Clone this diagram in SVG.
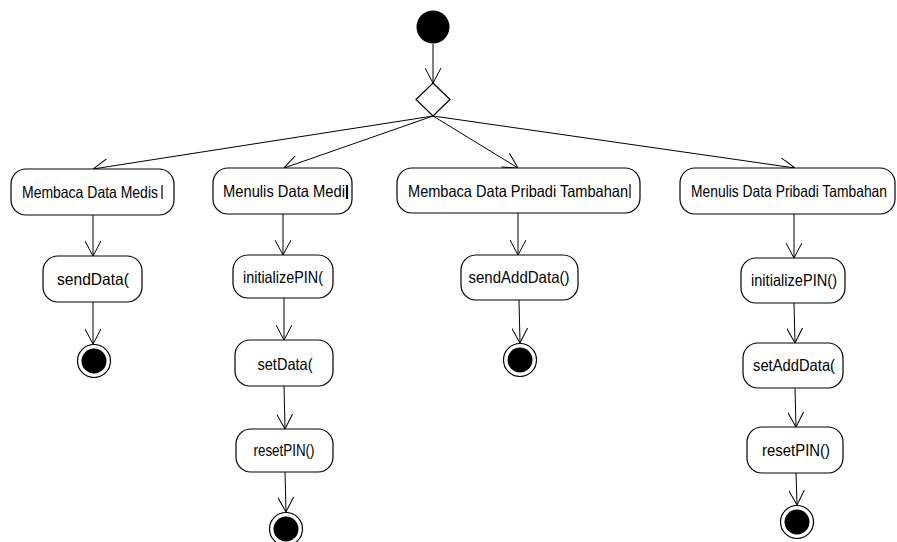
<svg xmlns="http://www.w3.org/2000/svg" width="897" height="542" viewBox="0 0 897 542">
  <style>
    .act { fill: #ffffff; stroke: #000000; stroke-width: 1.2; }
    .lbl { font-family: "Liberation Sans", Arial, sans-serif; font-size: 16.5px; fill: #000000; }
    .mid { text-anchor: middle; }
    .flow { fill: none; stroke: #000000; stroke-width: 1; marker-end: url(#open); }
    .cursor { stroke: #000000; stroke-width: 1.2; }
    .endRing { fill: #ffffff; stroke: #000000; stroke-width: 1.2; }
  </style>
  <defs>
    <marker id="open" viewBox="0 0 15 16" refX="15" refY="8" markerWidth="15" markerHeight="16" markerUnits="userSpaceOnUse" orient="auto">
      <path d="M0,0 L15,8 L0,16" fill="none" stroke="#000000" stroke-width="1"/>
    </marker>
  </defs>
  <rect width="897" height="542" fill="#ffffff"/>

  <g id="connectors">
    <line class="flow" x1="433" y1="44" x2="433" y2="83"/>
    <line class="flow" x1="433" y1="116" x2="93" y2="169"/>
    <line class="flow" x1="433" y1="116" x2="284" y2="168"/>
    <line class="flow" x1="433" y1="116" x2="518" y2="168"/>
    <line class="flow" x1="433" y1="116" x2="795" y2="168"/>
    <line class="flow" x1="93" y1="215" x2="93" y2="256"/>
    <line class="flow" x1="93" y1="302" x2="93" y2="344"/>
    <line class="flow" x1="283" y1="214" x2="283" y2="255"/>
    <line class="flow" x1="284" y1="298" x2="284" y2="340"/>
    <line class="flow" x1="284" y1="386" x2="285" y2="429"/>
    <line class="flow" x1="285" y1="472" x2="286" y2="512"/>
    <line class="flow" x1="518" y1="213" x2="518" y2="255"/>
    <line class="flow" x1="519" y1="300" x2="520" y2="343"/>
    <line class="flow" x1="794" y1="214" x2="794" y2="258"/>
    <line class="flow" x1="794" y1="303" x2="795" y2="343"/>
    <line class="flow" x1="795" y1="388" x2="796" y2="427"/>
    <line class="flow" x1="796" y1="473" x2="797" y2="505"/>
  </g>

  <g id="start">
    <circle cx="433" cy="27" r="16.5" fill="#000000"/>
  </g>

  <g id="decision">
    <polygon points="433,83 450,99.5 433,116 416,99.5" fill="#ffffff" stroke="#000000" stroke-width="1.2"/>
  </g>

  <g id="membacaDataMedis">
    <rect class="act" x="11" y="169" width="163" height="46" rx="15"/>
    <text class="lbl" x="22" y="198" textLength="136" lengthAdjust="spacingAndGlyphs">Membaca Data Medis</text>
    <line class="cursor" x1="162" y1="185" x2="162" y2="199"/>
  </g>
  <g id="sendData">
    <rect class="act" x="43" y="256" width="99" height="46" rx="15"/>
    <text class="lbl mid" x="93" y="285" textLength="72" lengthAdjust="spacingAndGlyphs">sendData(</text>
  </g>
  <g id="end1">
    <circle class="endRing" cx="94" cy="361" r="16.5"/>
    <circle cx="94" cy="361" r="12.5" fill="#000000"/>
  </g>

  <g id="menulisDataMedis">
    <rect class="act" x="213" y="168" width="139" height="46" rx="15"/>
    <text class="lbl" x="223" y="197" textLength="122" lengthAdjust="spacingAndGlyphs">Menulis Data Medi</text>
    <line x1="347" y1="185" x2="347" y2="199" stroke="#000000" stroke-width="2.2"/>
  </g>
  <g id="initializePIN1">
    <rect class="act" x="233" y="255" width="100" height="43" rx="15"/>
    <text class="lbl mid" x="283" y="283" textLength="80" lengthAdjust="spacingAndGlyphs">initializePIN(</text>
  </g>
  <g id="setData">
    <rect class="act" x="235" y="340" width="98" height="46" rx="15"/>
    <text class="lbl mid" x="285" y="370" textLength="55" lengthAdjust="spacingAndGlyphs">setData(</text>
  </g>
  <g id="resetPIN1">
    <rect class="act" x="236" y="429" width="97" height="43" rx="15"/>
    <text class="lbl mid" x="284" y="456" textLength="61" lengthAdjust="spacingAndGlyphs">resetPIN()</text>
  </g>
  <g id="end2">
    <circle class="endRing" cx="286" cy="529" r="16.5"/>
    <circle cx="286" cy="529" r="12.5" fill="#000000"/>
  </g>

  <g id="membacaDataPribadiTambahan">
    <rect class="act" x="397" y="168" width="243" height="45" rx="15"/>
    <text class="lbl" x="408" y="197" textLength="220" lengthAdjust="spacingAndGlyphs">Membaca Data Pribadi Tambahan</text>
    <line class="cursor" x1="630" y1="184" x2="630" y2="198"/>
  </g>
  <g id="sendAddData">
    <rect class="act" x="461" y="255" width="117" height="45" rx="15"/>
    <text class="lbl mid" x="519" y="283" textLength="101" lengthAdjust="spacingAndGlyphs">sendAddData()</text>
  </g>
  <g id="end3">
    <circle class="endRing" cx="520" cy="360" r="16.5"/>
    <circle cx="520" cy="360" r="12.5" fill="#000000"/>
  </g>

  <g id="menulisDataPribadiTambahan">
    <rect class="act" x="680" y="168" width="215" height="46" rx="15"/>
    <text class="lbl" x="691" y="197" textLength="196" lengthAdjust="spacingAndGlyphs">Menulis Data Pribadi Tambahan</text>
  </g>
  <g id="initializePIN2">
    <rect class="act" x="741" y="258" width="104" height="45" rx="15"/>
    <text class="lbl mid" x="794" y="286" textLength="86" lengthAdjust="spacingAndGlyphs">initializePIN()</text>
  </g>
  <g id="setAddData">
    <rect class="act" x="743" y="343" width="100" height="45" rx="15"/>
    <text class="lbl mid" x="794" y="371" textLength="82" lengthAdjust="spacingAndGlyphs">setAddData(</text>
  </g>
  <g id="resetPIN2">
    <rect class="act" x="747" y="427" width="96" height="46" rx="15"/>
    <text class="lbl mid" x="796" y="456" textLength="68" lengthAdjust="spacingAndGlyphs">resetPIN()</text>
  </g>
  <g id="end4">
    <circle class="endRing" cx="797" cy="522" r="16.5"/>
    <circle cx="797" cy="522" r="12.5" fill="#000000"/>
  </g>
</svg>
